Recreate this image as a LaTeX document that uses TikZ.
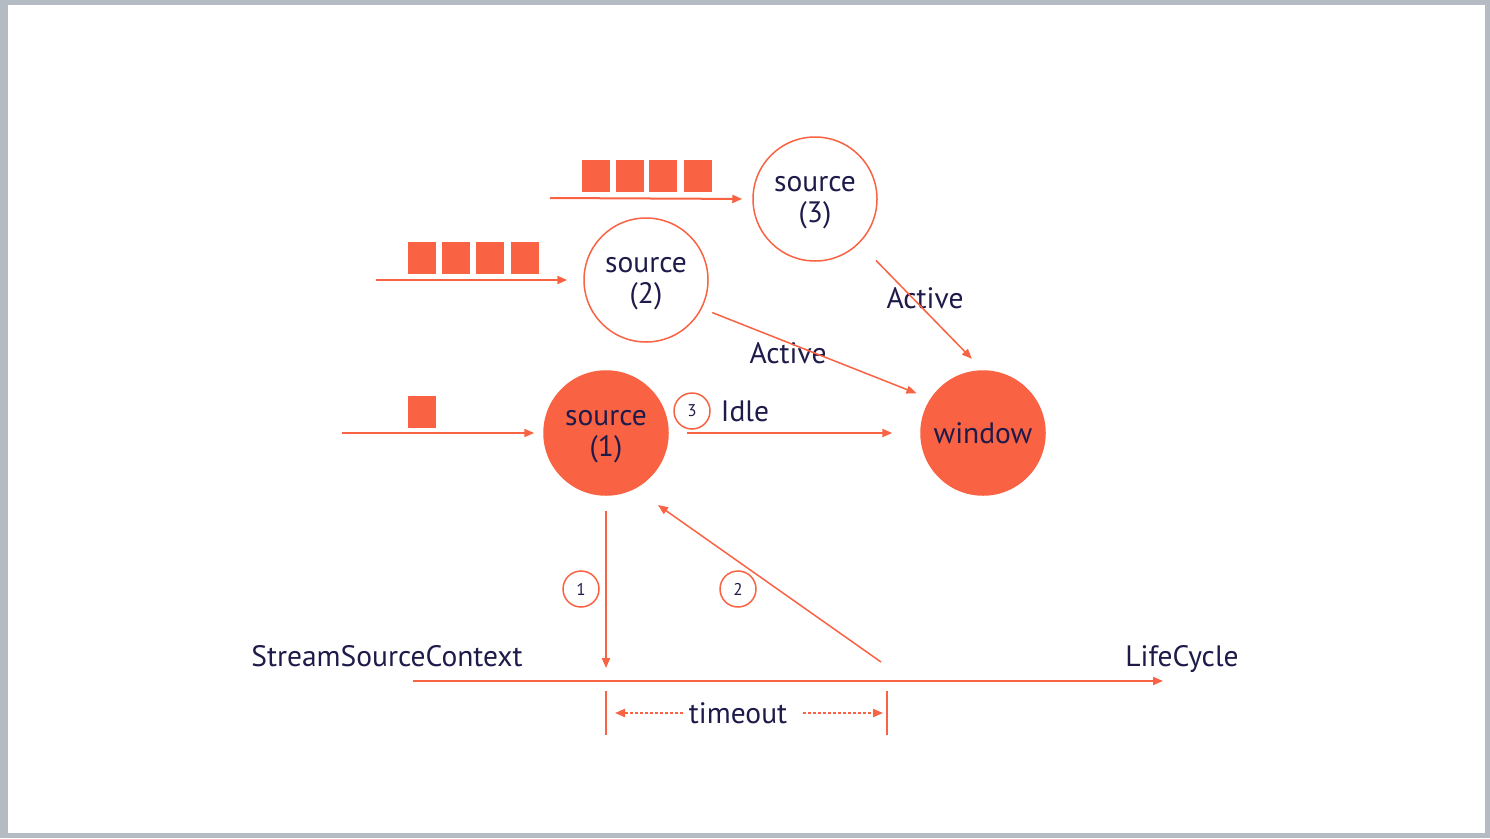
\documentclass[tikz,border=0pt]{standalone}
\usepackage{fontspec}
\setmainfont{PT Sans}
\usetikzlibrary{arrows.meta, calc}
\definecolor{coral}{HTML}{F96242}
\definecolor{ink}{HTML}{1E1B4B}
\definecolor{slide}{HTML}{B5BBC3}
\tikzstyle{source} = [circle, draw=coral, line width=1.5pt, minimum size=124pt, inner sep=0pt, align=center, text=ink, text depth=-9pt, font=\fontsize{29.5}{31}\selectfont]
\tikzstyle{busy} = [source, fill=coral]
\tikzstyle{packet} = [rectangle, fill=coral, minimum width=28pt, minimum height=32pt, inner sep=0pt]
\tikzstyle{badge} = [circle, draw=coral, line width=1.5pt, minimum size=36pt, inner sep=0pt, text=ink, font=\fontsize{17}{20}\selectfont]
\tikzstyle{txt} = [text=ink, font=\fontsize{29.5}{33}\selectfont, inner sep=0pt, text depth=0pt]
\tikzstyle{arrow} = [draw=coral, line width=2pt, -{Triangle[length=10pt,width=8pt]}]
\tikzstyle{thin} = [arrow, line width=1.5pt]
\tikzstyle{dotarrow} = [arrow, dash pattern=on 3pt off 2pt]
\tikzstyle{tick} = [draw=coral, line width=2pt]

\begin{document}
\begin{tikzpicture}[x=1pt, y=-1pt]

    % Slide
    \useasboundingbox (0,0) rectangle (1490,838);
    \fill[slide] (0,0) rectangle (1490,838);
    \fill[white] (8,5) rectangle (1485,833);

    % Nodes
    \node (src3) [source] at (815,199) {source\\(3)};
    \node (src2) [source] at (646,280) {source\\(2)};
    \node (src1) [busy] at (606,433) {source\\(1)};
    \node (window) [busy, text depth=] at (983,433) {window};

    \foreach \x [count=\i] in {596,629.5,663,697.5}
        \node (pkt3\i) [packet] at (\x,176) {};
    \foreach \x [count=\i] in {422,456,489.5,524.5}
        \node (pkt2\i) [packet] at (\x,258) {};
    \node (pkt11) [packet] at (421.5,411.5) {};

    \node (badge3) [badge] at (692,411) {3};
    \node (badge1) [badge] at (581,589) {1};
    \node (badge2) [badge] at (738,589) {2};

    \node (idle) [txt] at (745,411) {Idle};
    \node (active2) [txt] at (788,353) {Active};
    \node (active3) [txt] at (925,298) {Active};
    \node (context) [txt] at (387,656) {StreamSourceContext};
    \node (lifecycle) [txt] at (1182,656) {LifeCycle};
    \node (timeout) [txt] at (738,713) {timeout};

    \coordinate (in3) at (550,198);
    \coordinate (in2) at (376,280);
    \coordinate (in1) at (342,433);
    \coordinate (tlstart) at (413,681);
    \coordinate (tlend) at (1163,681);
    \coordinate (hit) at (606,681);
    \coordinate (ret) at (881,662);
    \coordinate (ack) at (658,505);
    \coordinate (tickL) at (606,713);
    \coordinate (tickR) at (887,713);

    % Arrows
    \draw [arrow, shorten >=10pt] (in3) -- (src3.west);
    \draw [arrow, shorten >=16pt] (in2) -- (src2.west);
    \draw [arrow, shorten >=9pt] (in1) -- (src1.west);
    \draw [arrow, shorten <=18pt, shorten >=28pt] (src1.east) -- (window.west);
    \draw [thin, shorten <=11pt, shorten >=15pt] (src2.-27) -- (window.147);
    \draw [thin, shorten <=24pt, shorten >=16pt] (src3.-45) -- (window.north);

    \draw [arrow, shorten <=15pt, shorten >=13pt] (src1.south) -- (hit);
    \draw [thin] (ret) -- (ack);
    \draw [arrow] (tlstart) -- (tlend);

    \draw [tick] ($(tickL)+(0,-22)$) -- ($(tickL)+(0,22)$);
    \draw [tick] ($(tickR)+(0,-22)$) -- ($(tickR)+(0,22)$);
    \draw [dotarrow, shorten <=6pt, shorten >=9pt] (timeout.west) -- (tickL);
    \draw [dotarrow, shorten <=16pt, shorten >=4pt] (timeout.east) -- (tickR);

    \end{tikzpicture}
\end{document}
